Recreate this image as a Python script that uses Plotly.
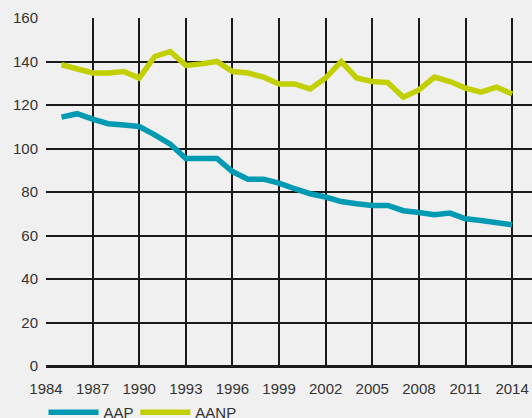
import plotly.graph_objects as go

years = list(range(1985, 2015))
aap = [114.4, 116.0, 113.5, 111.4, 110.8, 110.1, 106.3, 102.0, 95.4, 95.4,
       95.4, 89.4, 85.9, 85.9, 84.1, 81.5, 79.2, 77.7, 75.6, 74.6,
       73.8, 73.8, 71.4, 70.6, 69.5, 70.3, 67.7, 66.9, 66.2, 64.9]
aanp = [138.5, 136.5, 134.7, 134.7, 135.4, 132.4, 142.3, 144.6, 138.2, 138.9,
        140.0, 135.4, 134.7, 132.8, 129.7, 129.7, 127.4, 132.4, 140.0, 132.4,
        130.8, 130.3, 123.6, 126.9, 132.8, 130.8, 127.8, 125.9, 128.2, 125.1]
x_ticks = list(range(1984, 2015, 3))
y_ticks = list(range(0, 161, 20))

font = dict(family="Liberation Sans, Arial, sans-serif", size=15, color="#333333")

fig = go.Figure()
fig.add_trace(go.Scatter(x=years, y=aap, mode="lines", name="AAP", legend="legend",
                         line=dict(color="#009AB2", width=5.5)))
fig.add_trace(go.Scatter(x=years, y=aanp, mode="lines", name="AANP", legend="legend2",
                         line=dict(color="#C2CF00", width=5.5)))

leg_common = dict(orientation="h", xref="container", xanchor="left",
                  yref="container", y=0.0526, yanchor="top",
                  font=font, bgcolor="rgba(0,0,0,0)", itemwidth=50)

fig.update_layout(
    width=532, height=418,
    margin=dict(l=46, r=0, t=18, b=52),
    paper_bgcolor="#F0F0F0", plot_bgcolor="#F0F0F0",
    font=font,
    showlegend=True,
    legend=dict(x=0.0818, **leg_common),
    legend2=dict(x=0.2543, **leg_common),
    xaxis=dict(range=[1984, 2015.28], tickvals=x_ticks, ticktext=[str(v) for v in x_ticks],
               showgrid=True, gridcolor="#1a1a1a", gridwidth=1.5,
               zeroline=False, showline=False, ticks="", tickfont=font,
               ticklabelstandoff=12, fixedrange=True),
    yaxis=dict(range=[0, 160], tickvals=y_ticks, showgrid=True, gridcolor="#1a1a1a",
               gridwidth=1.5, zeroline=True, zerolinecolor="#1a1a1a", zerolinewidth=2.5,
               showline=False, ticks="", tickfont=font, ticklabelstandoff=7,
               fixedrange=True),
)

fig.write_html(
    "out.html",
    config={"displayModeBar": False},
    post_script="document.body.style.margin='0';document.body.style.overflow='hidden';"
                "document.body.style.background='#F0F0F0';",
)
